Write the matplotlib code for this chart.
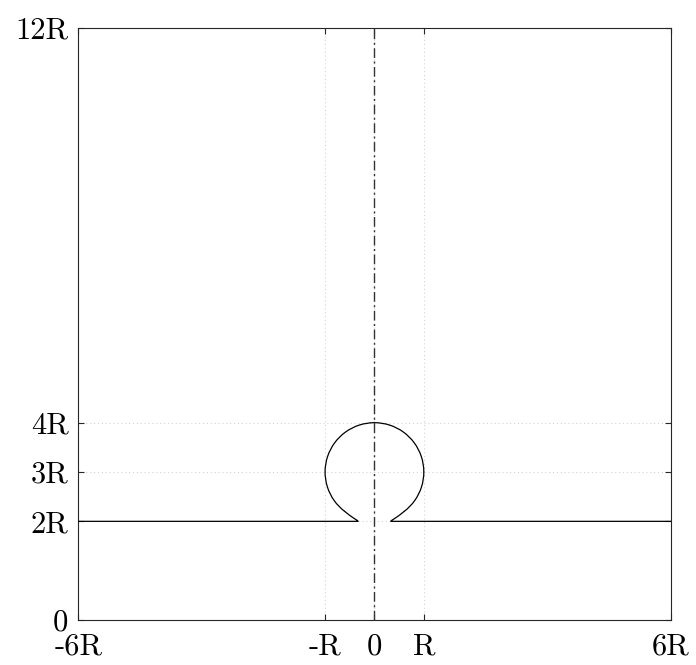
import matplotlib
matplotlib.use('Agg')
import matplotlib.pyplot as plt
from matplotlib.patches import Arc

plt.rcParams['font.family'] = ['cmr10', 'DejaVu Serif']
plt.rcParams['axes.formatter.use_mathtext'] = True

# axis ticks and labels (units of R)
x_ticks = [-6, -1, 0, 1, 6]
x_labels = ['-6R', '-R', '0', 'R', '6R']
y_ticks = [0, 2, 3, 4, 12]
y_labels = ['0', '2R', '3R', '4R', '12R']

# circle of radius R centred at (0, 3R), open at the bottom
circle_center = (0, 3)
circle_radius = 1
arc_start, arc_end = -53.13, 233.13   # degrees

# neck + flat free surface (left side, mirrored for right)
neck_x = [-0.60, -0.52, -0.45, -0.39, -0.35, -0.33, -0.40, -6.0]
neck_y = [2.20, 2.135, 2.085, 2.045, 2.02, 2.00, 2.00, 2.00]

fig = plt.figure(figsize=(6.96, 6.65), dpi=100)
ax = fig.add_axes([0.1125, 0.0677, 0.851, 0.890])

# grid
for xv in x_ticks:
    ax.axvline(xv, color='#d4d4d4', lw=0.8, ls=(0, (1, 2.5)), zorder=0)
for yv in y_ticks:
    ax.axhline(yv, color='#d4d4d4', lw=0.8, ls=(0, (1, 2.5)), zorder=0)

# symmetry axis
ax.plot([0, 0], [0, 12], color='#333333', lw=1.0, ls=(0, (7, 2.5, 1.5, 2.5)), zorder=2)

# drop outline
ax.add_patch(Arc(circle_center, 2 * circle_radius, 2 * circle_radius,
                 theta1=arc_start, theta2=arc_end, color='black', lw=0.9, zorder=3))
ax.plot(neck_x, neck_y, color='black', lw=0.9, zorder=3)
ax.plot([-v for v in neck_x], neck_y, color='black', lw=0.9, zorder=3)

ax.set_xlim(-6, 6)
ax.set_ylim(0, 12)
ax.set_xticks(x_ticks)
ax.set_xticklabels(x_labels)
ax.set_yticks(y_ticks)
ax.set_yticklabels(y_labels)
ax.tick_params(direction='in', length=4.3, width=0.8, color='#262626',
               labelsize=22, top=True, right=True)
ax.tick_params(axis='x', pad=9.5)
ax.tick_params(axis='y', pad=7)
for s in ax.spines.values():
    s.set_color('#262626')
    s.set_linewidth(0.8)

fig.savefig('out.png', dpi=100)
